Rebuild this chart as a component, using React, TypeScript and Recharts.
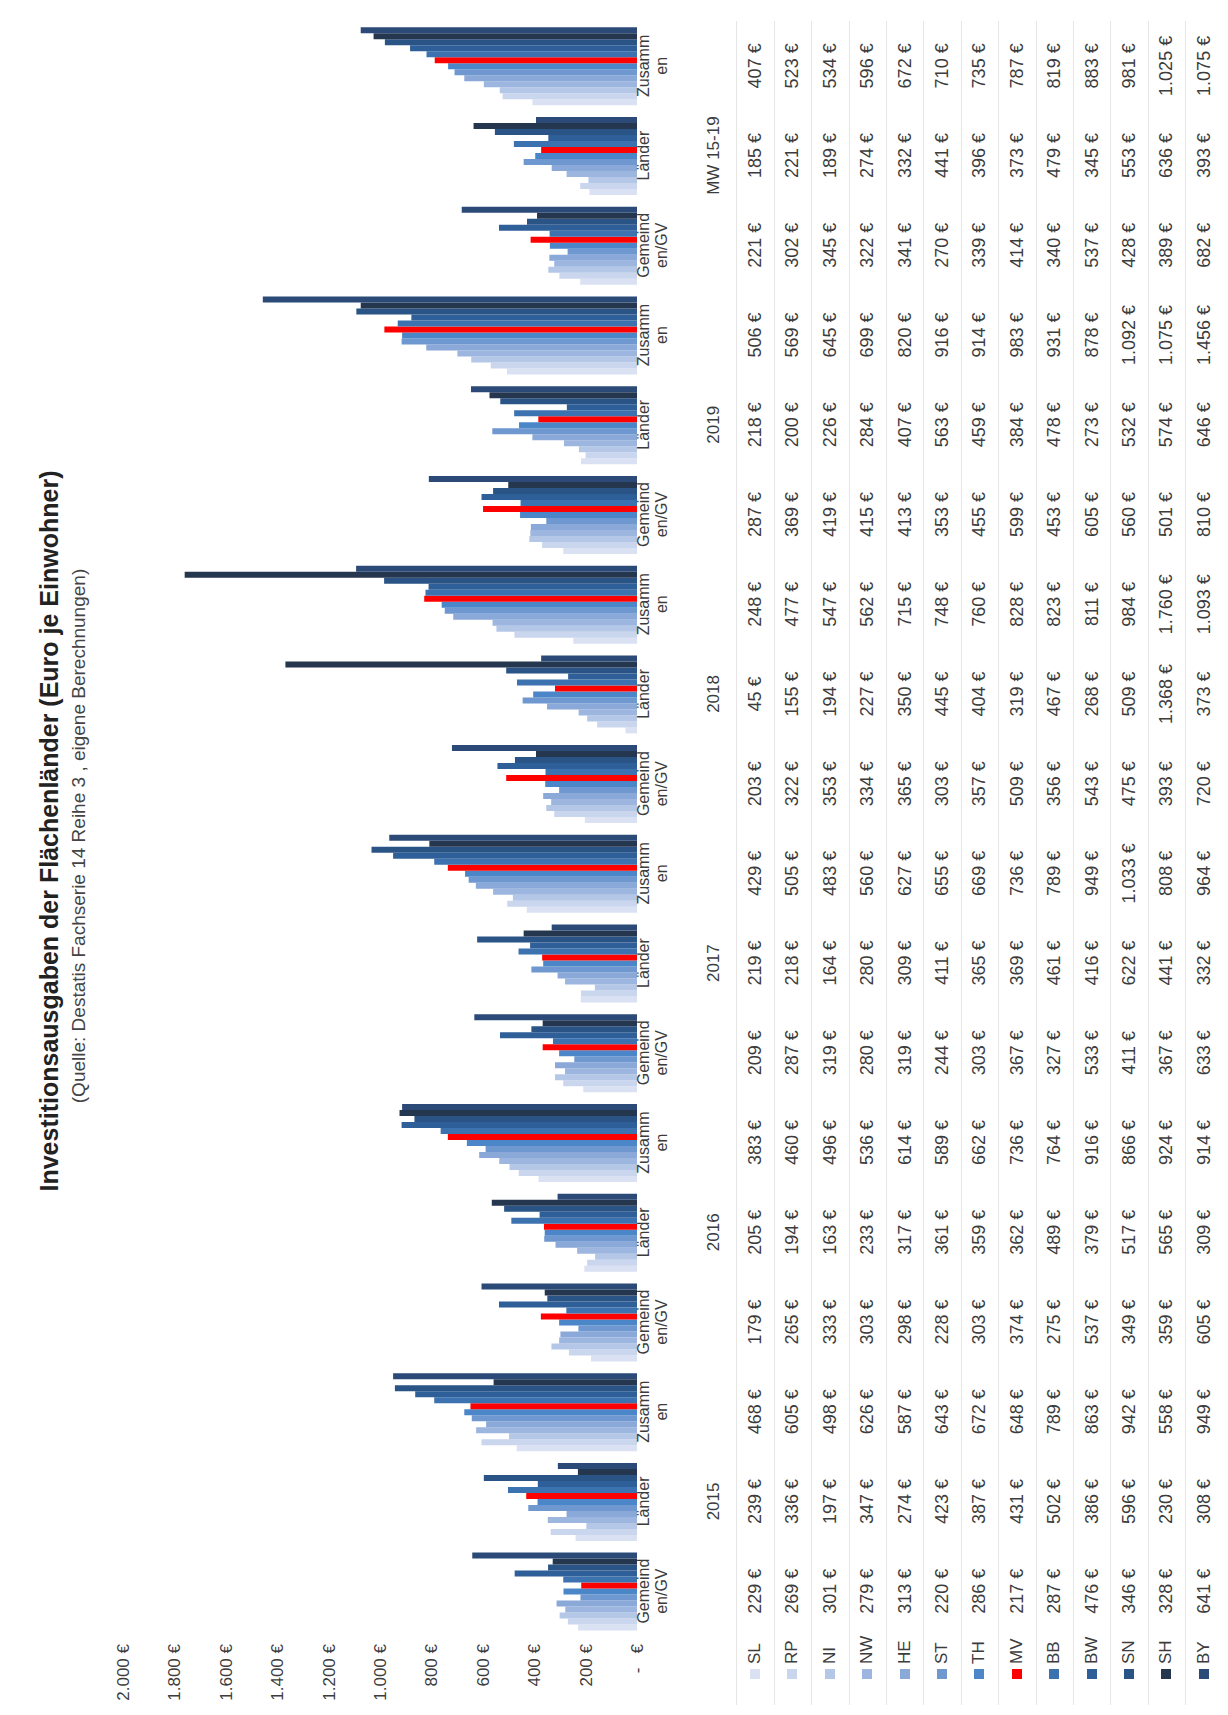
import React from 'react';
import { BarChart, Bar, XAxis, YAxis } from 'recharts';

// Kategorien
const years = ['2015', '2016', '2017', '2018', '2019', 'MW 15-19'];
const parts = ['Gemeinden/GV', 'Länder', 'Zusammen'];
const partLines = [['Gemeind', 'en/GV'], ['Länder'], ['Zusamm', 'en']];
const states = ['SL', 'RP', 'NI', 'NW', 'HE', 'ST', 'TH', 'MV', 'BB', 'BW', 'SN', 'SH', 'BY'];

// Euro je Einwohner, je Jahr: Gemeinden/GV, Länder, Zusammen
const SL = [229, 239, 468, 179, 205, 383, 209, 219, 429, 203, 45, 248, 287, 218, 506, 221, 185, 407];
const RP = [269, 336, 605, 265, 194, 460, 287, 218, 505, 322, 155, 477, 369, 200, 569, 302, 221, 523];
const NI = [301, 197, 498, 333, 163, 496, 319, 164, 483, 353, 194, 547, 419, 226, 645, 345, 189, 534];
const NW = [279, 347, 626, 303, 233, 536, 280, 280, 560, 334, 227, 562, 415, 284, 699, 322, 274, 596];
const HE = [313, 274, 587, 298, 317, 614, 319, 309, 627, 365, 350, 715, 413, 407, 820, 341, 332, 672];
const ST = [220, 423, 643, 228, 361, 589, 244, 411, 655, 303, 445, 748, 353, 563, 916, 270, 441, 710];
const TH = [286, 387, 672, 303, 359, 662, 303, 365, 669, 357, 404, 760, 455, 459, 914, 339, 396, 735];
const MV = [217, 431, 648, 374, 362, 736, 367, 369, 736, 509, 319, 828, 599, 384, 983, 414, 373, 787];
const BB = [287, 502, 789, 275, 489, 764, 327, 461, 789, 356, 467, 823, 453, 478, 931, 340, 479, 819];
const BW = [476, 386, 863, 537, 379, 916, 533, 416, 949, 543, 268, 811, 605, 273, 878, 537, 345, 883];
const SN = [346, 596, 942, 349, 517, 866, 411, 622, 1033, 475, 509, 984, 560, 532, 1092, 428, 553, 981];
const SH = [328, 230, 558, 359, 565, 924, 367, 441, 808, 393, 1368, 1760, 501, 574, 1075, 389, 636, 1025];
const BY = [641, 308, 949, 605, 309, 914, 633, 332, 964, 720, 373, 1093, 810, 646, 1456, 682, 393, 1075];

const seriesValues = [SL, RP, NI, NW, HE, ST, TH, MV, BB, BW, SN, SH, BY];
const yTicks = [0, 200, 400, 600, 800, 1000, 1200, 1400, 1600, 1800, 2000];

const colors = [
  '#d9e1f2', '#c9d6ee', '#b4c7e7', '#9db6df', '#8aa8d8', '#6f97d0', '#4a86c8',
  '#ff0000', '#3d72b0', '#2f5f98', '#2a5386', '#25364f', '#2b4a78',
];

const data = years.flatMap((yr, yi) =>
  parts.map((p, pi) => {
    const row: Record<string, string | number> = { key: yr + '|' + p };
    states.forEach((s, si) => {
      row[s] = seriesValues[si][yi * 3 + pi];
    });
    return row;
  })
);

// Layout (im ungedrehten Querformat)
const W = 1715;
const H = 1228;
const PLOT_TOP = 123;
const PLOT_BOTTOM = 637;
const PLOT_LEFT = 79;
const PLOT_RIGHT = 21;
const LABEL_V0 = 643;
const LABEL_STEP = 18;
const YEAR_V = 713;
const ROW_V0 = 755;
const ROW_STEP = 37.4;

const FONT = "'Liberation Sans', Arial, sans-serif";
const TEXT = '#3c3c3c';

const fmt = (v: number) => String(v).replace(/\B(?=(\d{3})+(?!\d))/g, '.') + '\u00A0€';

const CategoryTick = (props: any) => {
  const { x, payload } = props;
  const i = payload.index;
  const lines = partLines[i % 3];
  return (
    <g fontFamily={FONT}>
      {lines.map((l, k) => (
        <text key={k} x={x} y={LABEL_V0 + k * LABEL_STEP} textAnchor="middle" dominantBaseline="central" fontSize={16} fill={TEXT}>
          {l}
        </text>
      ))}
      {i % 3 === 1 && (
        <text x={x} y={YEAR_V} textAnchor="middle" dominantBaseline="central" fontSize={17} fill={TEXT}>
          {years[Math.floor(i / 3)]}
        </text>
      )}
      {states.map((s, r) => (
        <text key={s} x={x} y={ROW_V0 + r * ROW_STEP} textAnchor="middle" dominantBaseline="central" fontSize={18} fill={TEXT}>
          {fmt(seriesValues[r][i])}
        </text>
      ))}
    </g>
  );
};

export default function App() {
  return (
    <div style={{ position: 'absolute', left: 0, top: 0, width: 1228, height: 1715, overflow: 'hidden', background: '#fff' }}>
      <div
        style={{
          position: 'absolute',
          left: 0,
          top: 0,
          width: W,
          height: H,
          transformOrigin: '0 0',
          transform: `translate(0px, ${W}px) rotate(-90deg)`,
          fontFamily: FONT,
        }}
      >
        <div style={{ position: 'absolute', left: 384, width: 1000, top: 34, textAlign: 'center', fontSize: 25, fontWeight: 'bold', color: '#222', lineHeight: '30px', whiteSpace: 'nowrap' }}>
          Investitionsausgaben der Flächenländer (Euro je Einwohner)
        </div>
        <div style={{ position: 'absolute', left: 379, width: 1000, top: 68, textAlign: 'center', fontSize: 19, color: '#444', lineHeight: '22px', whiteSpace: 'nowrap' }}>
          (Quelle: Destatis Fachserie 14 Reihe 3 , eigene Berechnungen)
        </div>

        {states.map((s, r) => (
          <div key={s}>
            <div
              style={{
                position: 'absolute',
                left: 10,
                width: W - 10 - PLOT_RIGHT,
                top: ROW_V0 - ROW_STEP / 2 + r * ROW_STEP,
                height: 0,
                borderTop: '1px solid #e6e6e6',
              }}
            />
            <div
              style={{
                position: 'absolute',
                left: 36,
                top: ROW_V0 + r * ROW_STEP - 5,
                width: 10,
                height: 10,
                background: colors[r],
              }}
            />
            <div
              style={{
                position: 'absolute',
                left: 51,
                top: ROW_V0 + r * ROW_STEP - 11,
                fontSize: 17,
                lineHeight: '22px',
                color: TEXT,
              }}
            >
              {s}
            </div>
          </div>
        ))}

        <BarChart
          width={W}
          height={H}
          data={data}
          margin={{ top: PLOT_TOP, right: PLOT_RIGHT, left: 0, bottom: 0 }}
          barCategoryGap="6%"
          barGap={0}
          style={{ position: 'absolute', left: 0, top: 0 }}
        >
          <XAxis
            dataKey="key"
            interval={0}
            height={H - PLOT_BOTTOM}
            axisLine={false}
            tickLine={false}
            tick={<CategoryTick />}
          />
          <YAxis
            width={PLOT_LEFT}
            domain={[0, 2000]}
            ticks={yTicks}
            axisLine={false}
            tickLine={false}
            tickFormatter={(v: number) => (v === 0 ? '-\u00A0\u00A0\u00A0€' : fmt(v))}
            tick={{ fontSize: 17, fill: TEXT, fontFamily: FONT }}
          />
          {states.map((s, si) => (
            <Bar key={s} dataKey={s} fill={colors[si]} isAnimationActive={false} />
          ))}
        </BarChart>
      </div>
    </div>
  );
}
